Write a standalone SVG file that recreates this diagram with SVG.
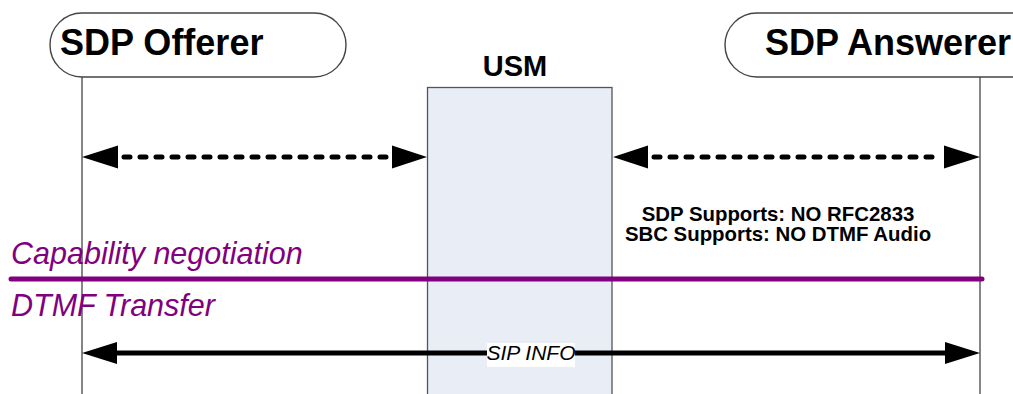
<svg xmlns="http://www.w3.org/2000/svg" width="1013" height="394" viewBox="0 0 1013 394">
<style>
.actor{fill:#fff;stroke:#444;stroke-width:1.4}
.life{stroke:#444;stroke-width:1.3;fill:none}
.title{font-family:"Liberation Sans",Arial,sans-serif;font-weight:bold;font-size:36px;fill:#000}
.usm{font-family:"Liberation Sans",Arial,sans-serif;font-weight:bold;font-size:29px;fill:#000}
.note{font-family:"Liberation Sans",Arial,sans-serif;font-weight:bold;font-size:20.4px;fill:#000}
.phase{font-family:"Liberation Sans",Arial,sans-serif;font-style:italic;font-size:30.5px;fill:#800080}
.lbl{font-family:"Liberation Sans",Arial,sans-serif;font-style:italic;font-size:21px;fill:#000}
.dash{stroke:#000;stroke-width:5;stroke-dasharray:6 10;stroke-linecap:round;fill:none}
.solid{stroke:#000;stroke-width:5;fill:none}
.head{fill:#000}
</style>
<g id="usm">
<rect x="427.5" y="87.5" width="184.5" height="320" fill="#e8edf6" stroke="#555" stroke-width="1.3"/>
<text class="usm" x="515" y="76" text-anchor="middle">USM</text>
</g>
<g id="offerer">
<line class="life" x1="82" y1="76" x2="82" y2="394"/>
<rect class="actor" x="50" y="13" width="296" height="64" rx="32" ry="32"/>
<text class="title" x="60" y="55">SDP Offerer</text>
</g>
<g id="answerer">
<line class="life" x1="980" y1="76" x2="980" y2="394"/>
<rect class="actor" x="725" y="13" width="320" height="64" rx="32" ry="32"/>
<text class="title" x="765" y="55">SDP Answerer</text>
</g>
<g id="notes">
<text class="note" x="778" y="221" text-anchor="middle">SDP Supports: NO RFC2833</text>
<text class="note" x="778" y="241" text-anchor="middle">SBC Supports: NO DTMF Audio</text>
</g>
<g id="phase">
<line x1="11" y1="279" x2="982" y2="279" stroke="#800080" stroke-width="5" stroke-linecap="round"/>
<text class="phase" x="11" y="264">Capability negotiation</text>
<text class="phase" x="11" y="316">DTMF Transfer</text>
</g>
<g id="connectors">
<line class="dash" x1="124" y1="157" x2="388" y2="157"/>
<polygon class="head" points="82,157 118,145.5 118,168.5"/>
<polygon class="head" points="427,157 392,145.5 392,168.5"/>
<line class="dash" x1="654" y1="157" x2="938" y2="157"/>
<polygon class="head" points="613,157 648,145.5 648,168.5"/>
<polygon class="head" points="980,157 944,145.5 944,168.5"/>
<line class="solid" x1="115" y1="353" x2="947" y2="353"/>
<polygon class="head" points="82,353 117,342 117,364"/>
<polygon class="head" points="980,353 945,342 945,364"/>
<rect x="487" y="343" width="88" height="24" fill="#fff"/>
<text class="lbl" x="531" y="360" text-anchor="middle">SIP INFO</text>
</g>
</svg>
